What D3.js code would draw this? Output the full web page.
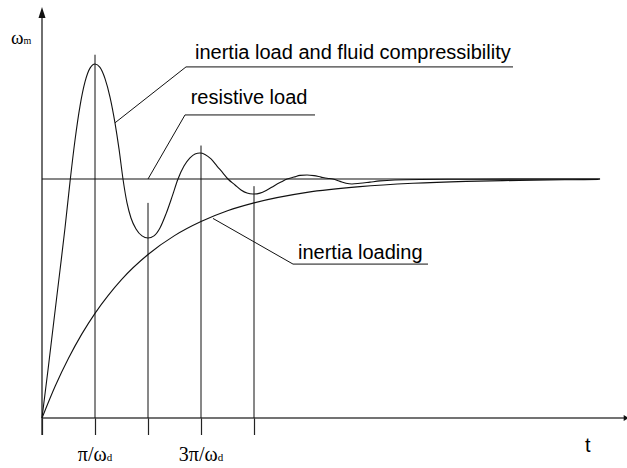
<!DOCTYPE html>
<html>
<head>
<meta charset="utf-8">
<script src="https://cdn.jsdelivr.net/npm/d3@7"></script>
<style>
  html, body { margin: 0; padding: 0; background: #fff; }
  svg { display: block; }
</style>
</head>
<body>
<svg id="chart" width="627" height="468"></svg>
<script>
// Time in units of pi/omega_d, speed normalised to its steady value.

// Response with inertia load and fluid compressibility (damped oscillation)
const oscT = [0, 0.113, 0.226, 0.340, 0.434, 0.528, 0.623, 0.717, 0.811, 0.906, 1.000,
  1.094, 1.189, 1.283, 1.377, 1.453, 1.528, 1.604, 1.679, 1.774, 1.887, 2.000,
  2.113, 2.226, 2.340, 2.453, 2.566, 2.679, 2.792, 2.887, 2.981, 3.075, 3.189,
  3.302, 3.415, 3.509, 3.642, 3.755, 3.868, 3.981, 4.113, 4.245, 4.377, 4.509,
  4.623, 4.755, 4.868, 5.000, 5.132, 5.264, 5.377, 5.491, 5.623, 5.736, 5.849,
  6.000, 6.189, 6.377, 6.660, 7.132, 8.075, 10.528];
const oscV = [0, 0.201, 0.410, 0.619, 0.795, 0.987, 1.163, 1.305, 1.406, 1.464, 1.481,
  1.467, 1.420, 1.343, 1.235, 1.126, 1.000, 0.900, 0.837, 0.791, 0.762, 0.753,
  0.762, 0.795, 0.854, 0.925, 1.000, 1.054, 1.088, 1.105, 1.109, 1.103, 1.084,
  1.054, 1.025, 1.000, 0.975, 0.954, 0.941, 0.937, 0.941, 0.954, 0.971, 0.987,
  1.000, 1.008, 1.015, 1.017, 1.014, 1.008, 1.003, 1.000, 0.990, 0.982, 0.979,
  0.982, 0.987, 0.992, 0.996, 0.998, 0.999, 1.000];

// Response with pure inertia loading (first-order rise)
const inertiaT = [0, 0.25, 0.5, 0.75, 1, 1.25, 1.5, 2, 2.5, 3, 3.5, 4, 5, 6, 7, 8, 9, 10, 10.5];
const inertiaV = [0, 0.134, 0.250, 0.351, 0.438, 0.513, 0.579, 0.684, 0.763, 0.822,
  0.867, 0.900, 0.944, 0.968, 0.982, 0.990, 0.994, 0.997, 0.998];

// Response with resistive load: the steady level
const steadyLevel = 1;
const steadyEnd = 10.53;

// Vertical guides at multiples of pi/omega_d
const guideT = [1, 2, 3, 4];
const guideTop = [1.52, 0.90, 1.14, 0.97];
const guideBottom = -0.071;
const tickLabels = [
  { t: 1, main: "\u03c0/\u03c9", sub: "d" },
  { t: 3, main: "3\u03c0/\u03c9", sub: "d" }
];

// Callouts: curve point, elbow, end of underline, label
const callouts = [
  { text: "inertia load and fluid compressibility", from: [1.377, 1.235], elbow: [2.717, 1.469], end: 8.887, textT: 2.887, textV: 1.502 },
  { text: "resistive load", from: [2.0, 1.0], elbow: [2.698, 1.268], end: 5.151, textT: 2.806, textV: 1.314 },
  { text: "inertia loading", from: [3.226, 0.835], elbow: [4.736, 0.644], end: 7.283, textT: 4.830, textV: 0.665 }
];

const yAxisTop = 1.72;
const xAxisEnd = 11.07;
const tTitleAt = 10.3;

const svg = d3.select("#chart");
const x = d3.scaleLinear().domain([0, 11]).range([42, 625]);
const y = d3.scaleLinear().domain([0, 1]).range([418, 179]);

const ink = "#111";

// x ticks below the axis (including the origin)
const xAxis = d3.axisBottom(x)
  .tickValues([0].concat(guideT))
  .tickSizeInner(17)
  .tickSizeOuter(0)
  .tickFormat("");
const gx = svg.append("g").attr("transform", `translate(0,${y(0)})`).call(xAxis);
gx.select(".domain").remove();
gx.selectAll(".tick line").attr("stroke", "#222").attr("stroke-width", 1.2);

// axes lines with arrowheads
svg.append("line")
  .attr("x1", x(0)).attr("y1", y(0))
  .attr("x2", x(xAxisEnd) - 4).attr("y2", y(0))
  .attr("stroke", "#444").attr("stroke-width", 1.6);
svg.append("path")
  .attr("d", `M${x(xAxisEnd)},${y(0)} L${x(xAxisEnd) - 5},${y(0) - 3} L${x(xAxisEnd) - 5},${y(0) + 3} Z`)
  .attr("fill", "#111");
svg.append("line")
  .attr("x1", x(0)).attr("y1", y(guideBottom))
  .attr("x2", x(0)).attr("y2", y(yAxisTop) + 8)
  .attr("stroke", "#222").attr("stroke-width", 1.3);
svg.append("path")
  .attr("d", `M${x(0)},${y(yAxisTop)} L${x(0) - 3.5},${y(yAxisTop) + 11} L${x(0) + 3.5},${y(yAxisTop) + 11} Z`)
  .attr("fill", "#111");

// vertical guides
svg.append("g").selectAll("line")
  .data(guideT)
  .join("line")
  .attr("x1", d => x(d)).attr("x2", d => x(d))
  .attr("y1", (d, i) => y(guideTop[i]))
  .attr("y2", y(0))
  .attr("stroke", ink).attr("stroke-width", 1);

// steady level line
svg.append("line")
  .attr("x1", x(0)).attr("x2", x(steadyEnd))
  .attr("y1", y(steadyLevel)).attr("y2", y(steadyLevel))
  .attr("stroke", ink).attr("stroke-width", 1.1);

const line = d3.line()
  .x(d => x(d[0]))
  .y(d => y(d[1]))
  .curve(d3.curveMonotoneX);

svg.append("path")
  .datum(oscT.map((t, i) => [t, oscV[i]]))
  .attr("d", line)
  .attr("fill", "none").attr("stroke", ink).attr("stroke-width", 1.1);

svg.append("path")
  .datum(inertiaT.map((t, i) => [t, inertiaV[i]]))
  .attr("d", line)
  .attr("fill", "none").attr("stroke", ink).attr("stroke-width", 1.1);

// callouts
const cg = svg.append("g");
callouts.forEach(c => {
  cg.append("path")
    .attr("d", `M${x(c.from[0])},${y(c.from[1])} L${x(c.elbow[0])},${y(c.elbow[1])} L${x(c.end)},${y(c.elbow[1])}`)
    .attr("fill", "none").attr("stroke", ink).attr("stroke-width", 1);
  cg.append("text")
    .attr("x", x(c.textT)).attr("y", y(c.textV))
    .attr("font-family", "Liberation Sans, Arial, sans-serif")
    .attr("font-size", 20)
    .attr("fill", "#000")
    .text(c.text);
});

// axis titles
const yTitle = svg.append("text")
  .attr("x", x(0) - 31).attr("y", y(yAxisTop) + 37)
  .attr("font-family", "Liberation Serif, Times New Roman, serif")
  .attr("font-size", 19).attr("fill", "#000");
yTitle.append("tspan").text("\u03c9");
yTitle.append("tspan").attr("font-size", 10).text("m");

svg.append("text")
  .attr("x", x(tTitleAt)).attr("y", y(0) + 34)
  .attr("text-anchor", "middle")
  .attr("font-family", "Liberation Sans, Arial, sans-serif")
  .attr("font-size", 20).attr("fill", "#000")
  .text("t");

// tick labels under the guides
tickLabels.forEach(l => {
  const tx = svg.append("text")
    .attr("x", x(l.t)).attr("y", y(0) + 43)
    .attr("text-anchor", "middle")
    .attr("font-family", "Liberation Serif, Times New Roman, serif")
    .attr("font-size", 20).attr("fill", "#000");
  tx.append("tspan").text(l.main);
  tx.append("tspan").attr("font-size", 11).text(l.sub);
});
</script>
</body>
</html>
